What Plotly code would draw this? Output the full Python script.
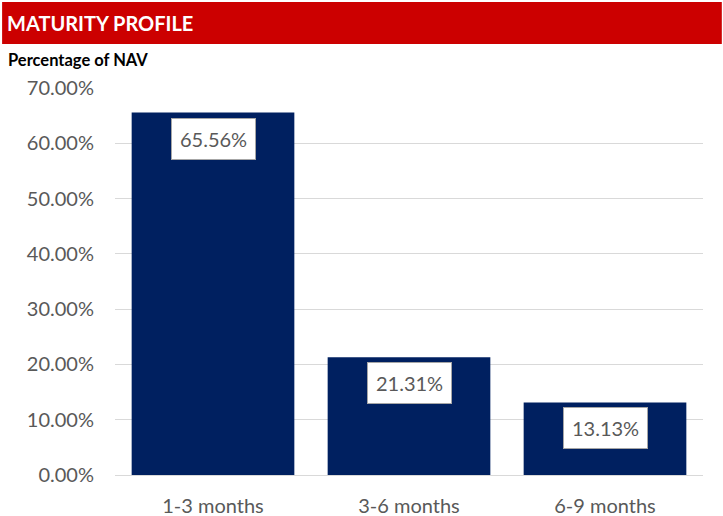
import plotly.graph_objects as go

categories = ["1-3 months", "3-6 months", "6-9 months"]
values = [0.6556, 0.2131, 0.1313]
tick_vals = [0, 0.1, 0.2, 0.3, 0.4, 0.5, 0.6, 0.7]

FONT = "Lato, 'Liberation Sans Narrow', 'Open Sans', sans-serif"
GRAY = "#595959"

fig = go.Figure(go.Bar(x=categories, y=values, marker_color="#002060",
                       marker_line_width=0, hoverinfo="skip"))

for c, v in zip(categories, values):
    fig.add_annotation(x=c, y=v, xref="x", yref="y", text=f"{v*100:.2f}%",
                       showarrow=False, yanchor="top", yshift=-5,
                       font=dict(family=FONT, size=20, color=GRAY),
                       bgcolor="white", bordercolor="#A6A6A6", borderwidth=1,
                       borderpad=8)

fig.add_shape(type="rect", xref="paper", yref="paper",
              x0=-0.192, x1=1.032, y0=1.1137, y1=1.222,
              fillcolor="#CC0000", line_width=0, layer="above")
fig.add_annotation(xref="paper", yref="paper", x=-0.187, y=1.168,
                   xanchor="left", yanchor="middle", showarrow=False,
                   text="<b>MATURITY PROFILE</b>",
                   font=dict(family=FONT, size=20, color="white"))
fig.add_annotation(xref="paper", yref="paper", x=-0.186, y=1.072,
                   xanchor="left", yanchor="middle", showarrow=False,
                   text="<b>Percentage of NAV</b>",
                   font=dict(family=FONT, size=16.5, color="black"))

fig.update_layout(
    width=723, height=516, autosize=False,
    margin=dict(l=115, r=20, t=88, b=41),
    plot_bgcolor="white", paper_bgcolor="white",
    bargap=0.17, showlegend=False,
    font=dict(family=FONT, size=20, color=GRAY),
)
fig.update_yaxes(range=[0, 0.7], tickvals=tick_vals, tickformat=".2%",
                 showgrid=True, gridcolor="#D9D9D9", gridwidth=1,
                 zeroline=False, showline=False, ticks="",
                 ticklabelstandoff=20, automargin=False,
                 tickfont=dict(size=20, color=GRAY))
fig.update_xaxes(showline=True, linecolor="#D9D9D9", ticks="",
                 ticklabelstandoff=13, automargin=False,
                 tickfont=dict(size=20, color=GRAY))

fig.write_html("out.html", config={"displayModeBar": False},
               post_script="document.body.style.margin='0px';document.body.style.padding='0px';")
